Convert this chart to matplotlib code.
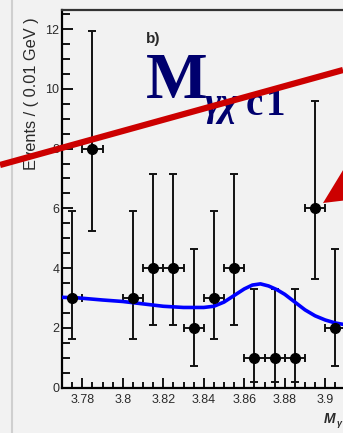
import matplotlib
matplotlib.use('Agg')
import matplotlib.pyplot as plt
from matplotlib.lines import Line2D
from matplotlib.patches import Polygon
from matplotlib.ticker import FixedLocator, MultipleLocator

# Binned data: bin centres (GeV), entries per 0.01 GeV bin, Poisson errors
bin_centres = [3.775, 3.785, 3.805, 3.815, 3.825, 3.835, 3.845,
               3.855, 3.865, 3.875, 3.885, 3.895, 3.905]
entries = [3, 8, 3, 4, 4, 2, 3, 4, 1, 1, 1, 6, 2]
err_low = [1.37, 2.77, 1.37, 1.91, 1.91, 1.29, 1.37,
           1.91, 0.83, 0.83, 0.83, 2.38, 1.29]
err_high = [2.92, 3.94, 2.92, 3.16, 3.16, 2.64, 2.92,
            3.16, 2.30, 2.30, 2.30, 3.58, 2.64]
bin_half_width = 0.005

# Fit curve (background + signal peak)
fit_x = [3.770, 3.778, 3.790, 3.800, 3.810, 3.820, 3.830, 3.840, 3.845,
         3.850, 3.855, 3.860, 3.864, 3.868, 3.872, 3.876, 3.880, 3.885,
         3.890, 3.895, 3.900, 3.905, 3.910, 3.920, 3.930]
fit_y = [3.02, 3.00, 2.93, 2.88, 2.80, 2.72, 2.68, 2.68, 2.72,
         2.86, 3.08, 3.30, 3.43, 3.47, 3.40, 3.28, 3.12, 2.86,
         2.60, 2.40, 2.26, 2.16, 2.10, 2.00, 1.95]

x_tick_values = [3.78, 3.80, 3.82, 3.84, 3.86, 3.88, 3.90]

W, H = 343, 433
BG = '#f2f2f2'
LABEL_FONT = ['Liberation Sans', 'DejaVu Sans']
SERIF_FONT = ['Liberation Serif', 'DejaVu Serif']


def fx(px):
    return px / W


def fy(py):
    return 1 - py / H


fig = plt.figure(figsize=(W / 100, H / 100), dpi=100, facecolor=BG)

# frame: left spine at x=62px, bottom at y=387.5px, top at y=10px
ax = fig.add_axes([fx(62), fy(387.5), (426.5 - 62) / W, (387.5 - 10) / H])
ax.set_facecolor(BG)
ax.set_xlim(3.77, 3.95)
ax.set_ylim(0, 12.64)

ax.errorbar(bin_centres, entries, yerr=[err_low, err_high],
            xerr=bin_half_width, fmt='none', ecolor='#111111',
            elinewidth=1.4, capsize=3.0, capthick=1.4, zorder=2)
ax.plot(fit_x, fit_y, color='#0000ff', lw=2.6, zorder=3)
ax.plot(bin_centres, entries, 'o', color='black', ms=7, zorder=4)

ax.xaxis.set_major_locator(FixedLocator(x_tick_values))
ax.xaxis.set_minor_locator(MultipleLocator(0.005))
ax.yaxis.set_major_locator(MultipleLocator(2))
ax.yaxis.set_minor_locator(MultipleLocator(0.5))
ax.xaxis.set_major_formatter(plt.FuncFormatter(lambda v, p: f'{v:.2f}'.rstrip('0')))
ax.tick_params(axis='both', which='both', direction='in', color='black',
               width=1.3, labelcolor='#2a2a2a', labelsize=9)
ax.tick_params(axis='y', which='major', length=8, pad=2)
ax.tick_params(axis='y', which='minor', length=5.5)
ax.tick_params(axis='x', which='major', length=7.5, pad=5)
ax.tick_params(axis='x', which='minor', length=4)
for lab in ax.get_xticklabels() + ax.get_yticklabels():
    lab.set_family(LABEL_FONT)
for side in ('left', 'bottom'):
    ax.spines[side].set_linewidth(1.6)
ax.spines['top'].set_linewidth(1.6)
ax.spines['top'].set_color('#333333')
ax.spines['right'].set_visible(False)

# canvas edge line on the left
fig.add_artist(Line2D([fx(12), fx(12)], [0, 1], transform=fig.transFigure,
                      color='#cfcfcf', lw=1.5))

fig.text(fx(32), fy(94), 'Events / ( 0.01 GeV )', rotation=90,
         ha='center', va='center', fontsize=11.8, color='#2a2a2a',
         family=LABEL_FONT)

fig.text(fx(146), fy(43), 'b)', fontsize=11, fontweight='bold',
         color='#2a2a2a', family=LABEL_FONT)

# big title M_{γχc1}
navy = '#00006e'
fig.text(fx(146), fy(98), 'M', fontsize=47, fontweight='bold',
         color=navy, family=SERIF_FONT)
fig.text(fx(205), fy(115), 'γχ', fontsize=28, fontweight='bold',
         style='italic', color=navy, family=SERIF_FONT)
fig.text(fx(246), fy(115), 'c', fontsize=28, fontweight='bold',
         color=navy, family=SERIF_FONT)
fig.text(fx(266), fy(115), '1', fontsize=28, fontweight='bold',
         color=navy, family=SERIF_FONT)

# x axis title at the right edge
fig.text(fx(324), fy(423), 'M', fontsize=10, fontweight='bold',
         style='italic', color='#2a2a2a', family=LABEL_FONT)
fig.text(fx(336.5), fy(426), 'γ', fontsize=6.5, fontweight='bold',
         style='italic', color='#2a2a2a', family=LABEL_FONT)

# red marker line and arrow head drawn on top
fig.add_artist(Line2D([0, 1], [fy(165), fy(70)], transform=fig.transFigure,
                      color='#cc0000', lw=4.5, solid_capstyle='butt',
                      zorder=10))
fig.add_artist(Polygon([(fx(323), fy(203)), (fx(365), fy(134)),
                        (fx(365), fy(198))], closed=True,
                       transform=fig.transFigure, facecolor='#cc0000',
                       edgecolor='none', zorder=10))

fig.savefig('out.png', dpi=100, facecolor=BG)
